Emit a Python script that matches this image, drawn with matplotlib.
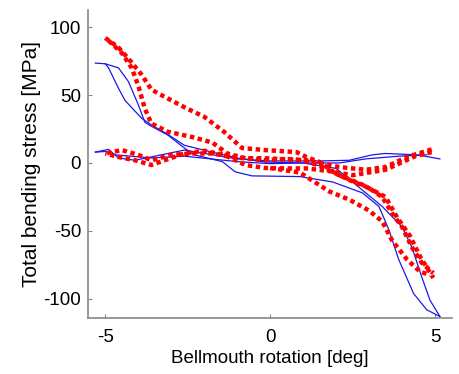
import matplotlib
matplotlib.use("Agg")
import matplotlib.pyplot as plt

plt.rcParams['font.family'] = ['Liberation Sans', 'DejaVu Sans']
plt.rcParams['axes.unicode_minus'] = False

# model (blue) branches
blue1_x = [-5.3, -5.0, -4.6, -4.3, -4.0, -3.8, -3.6, -3.1, -2.6, -2.3, -1.45, -1.06, -0.55, 0.9, 1.9, 2.8, 3.3, 3.6, 3.9, 4.35, 4.75, 5.15]
blue1_y = [73.5, 73, 70, 60, 43, 30, 27, 20.5, 11, 6, 1, -6.5, -9.5, -10, -14, -22, -32, -49, -71, -96, -108, -113]
blue2_x = [-5.0, -4.9, -4.6, -4.4, -3.9, -3.6, -3.1, -2.6, -1.6, -1.0, -0.15, 1.0, 2.0, 2.8, 3.4, 4.0, 4.3, 4.6, 4.85, 5.15]
blue2_y = [73, 70, 55, 46, 33, 28, 21, 13, 7, 3.7, 0.7, 0, -4, -20, -32, -47, -62, -84, -101, -113]
blue3_x = [5.15, 4.45, 3.5, 3.1, 2.4, 1.5, 0.0, -1.0, -2.6, -3.1, -4.1, -4.6, -4.9, -5.3]
blue3_y = [3, 6, 7, 6, 2, 1.5, 1.5, 3, 9.5, 7, 2, 3.7, 10, 8]
blue4_x = [4.75, 3.9, 2.9, 2.1, 1.0, 0.0, -1.0, -2.6, -3.6, -4.7, -5.0, -5.3]
blue4_y = [6, 5, 3, 0, 0, -0.5, 1, 5, 3.7, 6, 8.5, 8]

# measured (red) branches
red1_x = [-5.0, -4.6, -4.2, -3.9, -3.6, -3.3, -2.6, -2.0, -1.4, -0.85, -0.15, 0.8, 1.1, 1.5, 2.0, 2.8, 3.5, 3.85, 4.25, 4.55, 4.95]
red1_y = [92, 85, 74, 65, 54, 50, 41, 34, 23, 11, 9.5, 8, 4.4, 0.7, -8, -16, -25, -40, -54, -69, -84.6]
red2_x = [-4.9, -4.5, -4.2, -4.0, -3.8, -3.6, -3.1, -2.35, -1.75, -1.3, -0.75, -0.15, 1.0, 1.5, 2.4, 3.0, 3.4, 3.7, 4.0, 4.3, 4.6, 4.95]
red2_y = [90, 81, 70, 57, 40, 29, 23, 19, 15, 7, 3.5, 3.5, 2, -2, -12.5, -18.4, -25, -37, -47, -62, -73.5, -81]
red3_x = [0.0, 0.9, 1.8, 2.4, 3.0, 3.4, 3.7, 4.15, 4.55, 4.85]
red3_y = [-3.7, -7, -21, -27, -35, -43, -57, -71, -80, -82.5]
red4_x = [4.9, 4.15, 3.5, 2.9, 2.1, 1.5, 1.1, 0.5, -0.15, -1.15, -1.75, -2.35, -3.0, -3.6, -4.0, -4.5, -5.0]
red4_y = [10, 4.4, -3, -5, -3, 0, 2, 3, 2, 4.4, 7, 7, 6, 2, 6, 9.5, 7]
red5_x = [4.9, 4.4, 3.5, 2.5, 1.8, 1.1, 0.5, -0.15, -0.75, -1.4, -2.0, -2.6, -3.2, -3.6, -4.1, -4.6, -5.0]
red5_y = [8, 5, -5, -9, -6, -4, -4, -3.7, -1.5, 6, 9, 7, 2, -1.5, 2, 4.4, 7]

blue_x = [blue1_x, blue2_x, blue3_x, blue4_x]
blue_y = [blue1_y, blue2_y, blue3_y, blue4_y]
red_x = [red1_x, red2_x, red3_x, red4_x, red5_x]
red_y = [red1_y, red2_y, red3_y, red4_y, red5_y]

fig = plt.figure(figsize=(4.59, 3.74), dpi=100)
ax = fig.add_axes([0.192, 0.150, 0.793, 0.823])

for xs, ys in zip(blue_x, blue_y):
    ax.plot(xs, ys, color='#1a1ae6', lw=0.9)
for xs, ys in zip(red_x, red_y):
    ax.plot(xs, ys, color='red', lw=3.2, dashes=(1.0, 0.8))

ax.set_xlim(-5.52, 5.52)
ax.set_ylim(-114, 112.5)
ax.set_xticks([-5, 0, 5])
ax.set_yticks([-100, -50, 0, 50, 100])
ax.spines['top'].set_visible(False)
ax.spines['right'].set_visible(False)
for s in ['left', 'bottom']:
    ax.spines[s].set_color('#888888')
    ax.spines[s].set_linewidth(1.2)
ax.tick_params(direction='in', length=3, color='#888888', labelsize=13.5, pad=5)
ax.tick_params(axis='x', pad=8)
ax.set_xlabel('Bellmouth rotation [deg]', fontsize=13.5, labelpad=3)
ax.set_ylabel('Total bending stress [MPa]', fontsize=15, labelpad=2)

fig.savefig('out.png', dpi=100)
